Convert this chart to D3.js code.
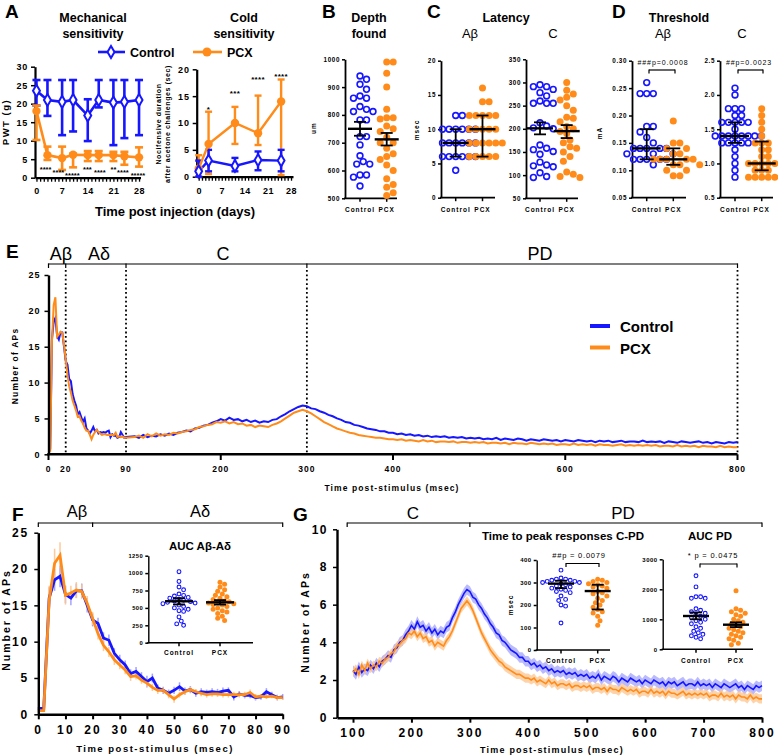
<!DOCTYPE html>
<html><head><meta charset="utf-8">
<script src="https://cdn.jsdelivr.net/npm/d3@7"></script>
<style>
body{margin:0;background:#fff;}
svg{display:block;font-family:Arial,"Liberation Sans",sans-serif;}
</style></head><body>
<svg id="c" width="778" height="756"></svg>
<script>
// ================= DATA =================
const groupNames=["Control","PCX"];
// Panel A - mechanical sensitivity (PWT, g)
const mechDays=[0,3,7,10,14,17,21,24,28];
const mechCtrl=[23.5,21,20.5,21,16.8,21,20.3,20.5,21];
const mechCtrlLo=[19.5,16.7,11.5,12.5,9.9,19,8.8,10.7,11.5];
const mechCtrlHi=[26.4,26.4,26.4,26.4,21.2,26.4,26.4,26.4,26.4];
const mechPcx=[18,6.1,5.3,6.2,6.1,6.1,6.1,5.8,5.5];
const mechPcxLo=[10.2,4.8,2.1,2.8,4.5,4.5,4.5,3.5,3];
const mechPcxHi=[19.5,8.4,8.4,6.5,7.2,7.2,7,7,8.2];
const mechStars=["****","****","*****","***","****","**","****","*****"];
const mechStarDays=[2.5,6,9.8,13.9,17.3,21,23.6,27.7];
const mechStarRows=[0,1,2,0,1,0,1,2];
// Panel A - cold sensitivity (sec)
const coldDays=[0,3,11,18,25];
const coldCtrl=[1,3,2,3.1,3];
const coldCtrlLo=[0,1,1,1.2,1];
const coldCtrlHi=[3,5,3.5,4.7,5];
const coldPcx=[1.5,6.1,10,8.1,14];
const coldPcxLo=[0,0.5,6.1,5.9,0.3];
const coldPcxHi=[4,12.1,13,15.1,18.1];
const coldStars=["*","***","****","****"];
const coldStarDays=[3,11,18,25];
const coldStarVals=[12.8,15.8,18.4,18.9];
// Panel B - depth found (um)
const depthCtrl=[928,940,910,892,868,860,860,830,812,812,820,782,782,722,722,692,653,632,623,623,584,576,584,544];
const depthPcx=[990,990,950,900,820,790,790,785,760,750,740,720,700,700,680,660,650,640,620,600,570,550,540,520,510];
const depthStats=[[750,725,775],[712,690,735]];
// Panel C - latency (msec)
const latAbCtrl=[12,12,10,10,10,10,10,10,8,8,8,8,8,8,6,6,6,6,6,6,4];
const latAbPcx=[16,14,14,12,12,12,12,12,10,10,10,10,10,8,8,8,8,8,8,6,6,6,6,6];
const latAbStats=[[8,6,10],[10,6,12]];
const latCCtrl=[295,291,291,285,278,271,260,255,255,255,213,206,202,200,165,158,155,151,145,128,122,120,118,105,97,95];
const latCPcx=[300,283,275,268,262,250,240,225,223,215,205,200,194,190,176,170,161,158,150,140,130,107,102,97,95];
const latCStats=[[201,188,214],[195,180,208]];
// Panel D - threshold (mA)
const thAbCtrl=[0.26,0.24,0.24,0.24,0.18,0.18,0.17,0.16,0.15,0.14,0.14,0.14,0.14,0.14,0.13,0.13,0.13,0.12,0.12,0.12,0.12,0.12,0.11];
const thAbPcx=[0.19,0.15,0.15,0.14,0.14,0.13,0.13,0.12,0.12,0.12,0.12,0.12,0.11,0.11,0.11,0.10,0.10,0.09,0.09];
const thAbStats=[[0.14,0.12,0.175],[0.12,0.11,0.14]];
const thCCtrl=[2.1,2.0,1.8,1.8,1.8,1.7,1.7,1.6,1.6,1.6,1.6,1.6,1.5,1.4,1.4,1.4,1.4,1.4,1.4,1.4,1.4,1.3,1.3,1.3,1.3,1.3,1.2,1.1,1.0,0.9,0.8];
const thCPcx=[1.8,1.7,1.6,1.5,1.4,1.3,1.3,1.3,1.2,1.2,1.1,1.1,1.0,1.0,1.0,1.0,1.0,1.0,0.9,0.9,0.9,0.8,0.8,0.8,0.8,0.8];
const thCStats=[[1.4,1.3,1.6],[1.0,0.9,1.32]];
// Panel F - early responses 0-90 ms (2 ms bins)
const fCtrl=[0.8,0.8,16,18.5,19,16.5,16,17,17,15, 13,12.5,10.5,10.2,8.4,7.5,6.8,5.6,5.9,5.2, 4.5,5,3.6,3.3,2.9,3.3,3.8,3.2,3.4,2.9, 3.1,3,3.1,3,3.2,3.3,2.4,2.8,2.6,2.6, 2.3,2.4,3.1,2.7,2.3,2.4];
const fPcx=[0.5,0.5,15.7,20.8,21.9,16.4,16.7,17.1,16.9,15.3, 13.2,11.1,9.5,8.6,7.5,6.8,6.1,5.2,5.3,4.7, 4.3,3.7,3.3,3.3,2.7,2.1,2.7,3.1,3.4,3.1, 2.9,2.7,2.8,2.8,2.7,2.7,2.7,2.7,2.7,3.0, 2.4,2.5,2.4,2.5,2.3,2.3];
const fCtrlErr=[0.2,0.2,1.5,1.5,1.5,1.2,1,1,1,1, 0.9,0.8,0.8,0.8,0.7,0.7,0.6,0.6,0.6,0.6, 0.8,0.6,0.5,0.5,0.5,0.5,0.6,0.5,0.5,0.5, 0.5,0.4,0.5,0.5,0.5,0.4,0.5,0.4,0.4,0.4, 0.4,0.4,0.5,0.4,0.4,0.4];
const fPcxErr=[0.2,0.2,2,2,1.8,1.3,1,1.1,1,1, 0.9,0.8,0.8,0.7,0.7,0.6,0.6,0.6,0.5,0.5, 0.5,0.5,0.5,0.4,0.5,0.5,0.4,0.4,0.4,0.4, 0.4,0.4,0.4,0.4,0.4,0.4,0.4,0.4,0.4,0.4, 0.4,0.3,0.3,0.3,0.3,0.3];
const aucAbCtrl=[1020,880,800,760,700,680,670,650,640,620,610,600,590,580,570,560,540,520,500,480,460,450,370,310,270,250];
const aucAbPcx=[870,840,800,760,740,700,680,660,640,620,600,590,580,570,560,550,540,520,500,480,460,440,420,380,350,320];
const aucAbStats=[[595,550,640],[580,548,612]];
// Panel G - late responses 100-800 ms (5 ms bins)
const gCtrl=[2.5,2.3,2.7,2.4,2.6,2.5,2.8,2.6,2.9,2.7,3.0,3.1,3.3,3.2,3.6,3.7,4.0,4.1,4.4,4.6,
 4.9,4.7,5.1,4.8,4.9,4.6,4.8,4.5,4.7,4.4,4.6,4.5,4.8,4.9,5.3,5.6,6.0,6.3,6.6,6.8,
 6.7,6.4,6.3,6.0,5.8,5.5,5.3,5.0,4.8,4.5,4.4,4.1,4.0,3.8,3.6,3.5,3.4,3.2,3.2,3.0,
 3.0,2.8,2.9,2.7,2.8,2.6,2.7,2.5,2.6,2.4,2.5,2.4,2.5,2.3,2.4,2.3,2.4,2.2,2.3,2.2,
 2.3,2.1,2.2,2.1,2.3,2.0,2.2,2.1,2.0,2.2,2.1,1.9,2.1,2.0,1.9,2.1,2.0,1.9,2.0,1.8,
 2.0,1.9,1.8,2.0,1.9,1.8,1.9,1.7,1.9,1.8,1.9,1.7,1.8,1.9,1.7,1.8,1.8,1.7,1.9,1.7,
 1.8,1.7,1.8,1.6,1.8,1.7,1.6,1.8,1.7,1.6,1.7,1.8,1.6,1.7,1.5,1.7,1.6,1.5,1.7,1.6,1.7];
const gPcx=[2.4,2.6,2.3,2.8,2.5,2.9,2.6,2.8,2.7,3.0,2.9,3.1,3.2,3.4,3.5,3.8,3.9,4.1,4.2,4.5,
 4.4,4.6,4.3,4.5,4.2,4.3,4.0,4.1,3.8,4.0,3.9,3.8,4.1,4.3,4.6,5.0,5.4,5.8,6.0,6.2,
 6.0,5.7,5.3,4.9,4.5,4.2,3.9,3.6,3.4,3.2,3.0,2.9,2.7,2.6,2.5,2.4,2.3,2.3,2.2,2.1,
 2.1,2.0,2.1,1.9,2.0,1.9,1.8,2.0,1.8,1.9,1.7,1.8,1.8,1.7,1.8,1.6,1.7,1.7,1.6,1.7,
 1.6,1.7,1.5,1.6,1.6,1.5,1.6,1.4,1.6,1.5,1.5,1.4,1.6,1.5,1.4,1.5,1.4,1.5,1.3,1.4,
 1.4,1.3,1.5,1.3,1.4,1.3,1.4,1.2,1.4,1.3,1.3,1.2,1.3,1.4,1.2,1.3,1.2,1.3,1.2,1.3,
 1.2,1.3,1.1,1.2,1.2,1.1,1.3,1.1,1.2,1.1,1.2,1.0,1.2,1.1,1.1,1.0,1.2,1.0,1.1,1.0,1.0];
const gSem=[0.28,0.24];
const peakCtrl=[355,320,315,315,310,310,305,305,300,300,295,290,285,280,275,270,265,260,255,240,225,220,200,195,120];
const peakPcx=[315,310,305,300,295,290,285,280,275,260,255,250,240,230,220,210,200,190,180,170,165,150,130,110];
const peakStats=[[295,275,308],[262,180,290]];
const aucPdCtrl=[2450,2080,1750,1750,1700,1700,1350,1300,1250,1200,1150,1100,1050,1000,950,900,850,750,700,600,550,500,450,400,350];
const aucPdPcx=[1950,1350,1300,1250,1200,1150,1100,1000,950,900,850,800,750,700,650,600,550,500,450,400,350,300,200,150];
const aucPdStats=[[1110,1000,1230],[820,740,900]];
// E tick labels
const eTickLabels=[0,20,90,200,300,400,600,800];
const eTickMarks=[0,200,400,600,800];
const ePhases=[0,20,90,300,800];

// ================= DRAWING =================
const svg=d3.select("#c");
const BLUE="#1616ff", ORANGE="#ff8c1a", BLUE_L="#8c8cff", ORANGE_L="#ffc48c";
const FONT="Arial, 'Liberation Sans', sans-serif";

function txt(x,y,s,o={}){
  const t=svg.append("text").attr("x",x).attr("y",y).text(s)
    .attr("font-size",o.size||12).attr("font-weight",o.bold===false?"normal":"bold")
    .attr("text-anchor",o.anchor||"start").attr("fill",o.fill||"#000");
  if(o.ls) t.attr("letter-spacing",o.ls);
  if(o.rot) t.attr("transform",`rotate(-90,${x},${y})`);
  return t;
}
function line(x1,y1,x2,y2,o={}){
  const l=svg.append("line").attr("x1",x1).attr("y1",y1).attr("x2",x2).attr("y2",y2)
    .attr("stroke",o.c||"#000").attr("stroke-width",o.w||1.5);
  if(o.dash) l.attr("stroke-dasharray",o.dash);
  if(o.op) l.attr("stroke-opacity",o.op);
  return l;
}
function styleAxis(g,o){
  g.attr("font-family",FONT);
  g.select(".domain").attr("stroke","#000").attr("stroke-width",o.sw||2);
  g.selectAll(".tick line").attr("stroke","#000").attr("stroke-width",o.tw||1.5);
  g.selectAll(".tick text").attr("font-size",o.fs||7).attr("font-weight","bold")
    .attr("letter-spacing",o.ls||0).attr("fill","#000");
}
function yAxis(scale,x,ticks,o={}){
  const g=svg.append("g").attr("transform",`translate(${x},0)`)
    .call(d3.axisLeft(scale).tickValues(ticks).tickSize(o.ts||3).tickSizeOuter(0)
      .tickPadding(o.pad||3).tickFormat(o.fmt||(d=>d)));
  styleAxis(g,o);
  return g;
}
function swarm(vals,y,cx,d){
  const pts=vals.map(v=>({v,y:y(v)})).sort((a,b)=>a.y-b.y);
  const placed=[];
  pts.forEach(p=>{
    let k=0,x=cx;
    while(k<80){
      const off=(k===0)?0:((k%2===1)?1:-1)*Math.ceil(k/2)*d/2;
      x=cx+off;
      if(placed.every(q=>Math.hypot(q.x-x,q.y-p.y)>=d-0.01)) break;
      k++;
    }
    p.x=x; placed.push(p);
  });
  return placed;
}
function dotPanel(p){
  const y=d3.scaleLinear().domain(p.domain).range([p.yBot,p.yTop]);
  yAxis(y,p.x0,p.ticks,{fmt:p.fmt,fs:p.fs,ls:p.ls||0.6,sw:p.axw||1.8,ts:3,pad:2});
  line(p.x0-1,p.yBot,p.x1,p.yBot,{w:p.axw||1.8});
  p.xs.forEach((cx,i)=>{
    line(cx,p.yBot,cx,p.yBot+3.5,{w:1.5});
    txt(cx,p.labelY,groupNames[i],{size:p.lfs||6.5,anchor:"middle",ls:1});
  });
  p.groups.forEach((vals,i)=>{
    const pts=swarm(vals,y,p.xs[i],p.d);
    svg.append("g").selectAll("circle").data(pts).join("circle")
      .attr("cx",q=>q.x).attr("cy",q=>q.y).attr("r",i===0?p.r:p.r+0.6)
      .attr("fill",i===0?"none":ORANGE).attr("stroke",i===0?BLUE:"none")
      .attr("stroke-width",p.sw||1.6);
  });
  p.stats.forEach((s,i)=>{
    const cx=p.xs[i];
    line(cx,y(s[1]),cx,y(s[2]),{w:1.8});
    line(cx-p.capW/2,y(s[1]),cx+p.capW/2,y(s[1]),{w:1.8});
    line(cx-p.capW/2,y(s[2]),cx+p.capW/2,y(s[2]),{w:1.8});
    line(cx-p.meanW/2,y(s[0]),cx+p.meanW/2,y(s[0]),{w:2.4});
  });
  if(p.ylabel) txt(p.ylabelX,p.ylabelY,p.ylabel,{size:6.5,anchor:"middle",rot:true,ls:1});
  return y;
}
function bracket(xs,yB,tick){
  line(xs[0],yB,xs[xs.length-1],yB,{w:1.2});
  xs.forEach(x=>line(x,yB-0.6,x,yB+tick,{w:1.2}));
}

// ---------- Panel letters ----------
[["A",5,18],["B",322,18],["C",427,18],["D",612,18],["E",6,258],["F",12,521],["G",293,521]]
  .forEach(d=>txt(d[1],d[2],d[0],{size:19}));

// ---------- Panel A : mechanical ----------
{
  const x=d3.scaleLinear().domain([-0.4,28.4]).range([35,140.5]);
  const y=d3.scaleLinear().domain([0,30]).range([177.7,66.7]);
  yAxis(y,35,[0,5,10,15,20,25,30],{fs:9,ls:0.8,sw:2.2,ts:4});
  const gx=svg.append("g").attr("transform","translate(0,177.7)")
    .call(d3.axisBottom(x).tickValues(d3.range(0,29)).tickSize(4).tickSizeOuter(0).tickPadding(6)
      .tickFormat(d=>d%7===0?d:""));
  styleAxis(gx,{fs:9,ls:0.5,sw:2.2,tw:1.3});
  txt(93,22,"Mechanical",{size:12.5,anchor:"middle"});
  txt(93,37.5,"sensitivity",{size:12.5,anchor:"middle"});
  txt(9,122,"PWT (g)",{size:9.5,anchor:"middle",rot:true,ls:1.5});
  const eb=(days,lo,hi,col)=>days.forEach((d,i)=>{
    line(x(d),y(lo[i]),x(d),y(hi[i]),{c:col,w:2.6});
    line(x(d)-4,y(lo[i]),x(d)+4,y(lo[i]),{c:col,w:2.6});
    line(x(d)-4,y(hi[i]),x(d)+4,y(hi[i]),{c:col,w:2.6});
  });
  eb(mechDays,mechCtrlLo,mechCtrlHi,BLUE);
  eb(mechDays,mechPcxLo,mechPcxHi,ORANGE);
  const ln=d3.line().x((d,i)=>x(mechDays[i])).y(d=>y(d));
  svg.append("path").attr("d",ln(mechPcx)).attr("fill","none").attr("stroke",ORANGE).attr("stroke-width",2.6);
  svg.append("path").attr("d",ln(mechCtrl)).attr("fill","none").attr("stroke",BLUE).attr("stroke-width",2.6);
  mechPcx.forEach((v,i)=>svg.append("circle").attr("cx",x(mechDays[i])).attr("cy",y(v)).attr("r",4.2).attr("fill",ORANGE));
  mechCtrl.forEach((v,i)=>svg.append("path").attr("d",d3.symbol(d3.symbolDiamond,42)())
    .attr("transform",`translate(${x(mechDays[i])},${y(v)})`).attr("fill","#fff").attr("stroke",BLUE).attr("stroke-width",2));
  const rowY=[171.5,175,178];
  mechStars.forEach((s,i)=>txt(x(mechStarDays[i]),rowY[mechStarRows[i]],s,{size:7.5,anchor:"middle"}));
}
// legend A
line(98,52,125,52,{c:BLUE,w:2.6});
svg.append("path").attr("d",d3.symbol(d3.symbolDiamond,42)()).attr("transform","translate(111,52)")
  .attr("fill","#fff").attr("stroke",BLUE).attr("stroke-width",2);
txt(130,57,"Control",{size:12.5});
line(193,52,222,52,{c:ORANGE,w:2.6});
svg.append("circle").attr("cx",207).attr("cy",52).attr("r",4.5).attr("fill",ORANGE);
txt(227,57,"PCX",{size:12.5});

// ---------- Panel A : cold ----------
{
  const x=d3.scaleLinear().domain([-0.6,28.6]).range([196.7,293]);
  const y=d3.scaleLinear().domain([0,20]).range([176.7,69.3]);
  yAxis(y,196.7,[0,5,10,15,20],{fs:9,ls:0.8,sw:2.2,ts:4});
  const gx=svg.append("g").attr("transform","translate(0,176.7)")
    .call(d3.axisBottom(x).tickValues(d3.range(0,29)).tickSize(4).tickSizeOuter(0).tickPadding(7)
      .tickFormat(d=>d%7===0?d:""));
  styleAxis(gx,{fs:9,ls:0.5,sw:2.2,tw:1.3});
  txt(244,22,"Cold",{size:12.5,anchor:"middle"});
  txt(244,37.5,"sensitivity",{size:12.5,anchor:"middle"});
  const lt=svg.append("text").attr("transform","translate(164,124) rotate(-90)")
    .attr("text-anchor","middle").attr("font-size",7).attr("font-weight","bold").attr("letter-spacing",0.6);
  lt.append("tspan").attr("x",0).attr("y",-3).text("Nocifensive duration");
  lt.append("tspan").attr("x",0).attr("y",5.5).text("after acetone challenges (sec)");
  const eb=(days,lo,hi,col)=>days.forEach((d,i)=>{
    line(x(d),y(lo[i]),x(d),y(hi[i]),{c:col,w:2.4});
    line(x(d)-3.5,y(lo[i]),x(d)+3.5,y(lo[i]),{c:col,w:2.4});
    line(x(d)-3.5,y(hi[i]),x(d)+3.5,y(hi[i]),{c:col,w:2.4});
  });
  eb(coldDays,coldPcxLo,coldPcxHi,ORANGE);
  eb(coldDays,coldCtrlLo,coldCtrlHi,BLUE);
  const ln=d3.line().x((d,i)=>x(coldDays[i])).y(d=>y(d));
  svg.append("path").attr("d",ln(coldPcx)).attr("fill","none").attr("stroke",ORANGE).attr("stroke-width",2.4);
  svg.append("path").attr("d",ln(coldCtrl)).attr("fill","none").attr("stroke",BLUE).attr("stroke-width",2.4);
  coldPcx.forEach((v,i)=>svg.append("circle").attr("cx",x(coldDays[i])).attr("cy",y(v)).attr("r",4.2).attr("fill",ORANGE));
  coldCtrl.forEach((v,i)=>svg.append("path").attr("d",d3.symbol(d3.symbolDiamond,40)())
    .attr("transform",`translate(${x(coldDays[i])},${y(v)})`).attr("fill","#fff").attr("stroke",BLUE).attr("stroke-width",2));
  coldStars.forEach((s,i)=>txt(x(coldStarDays[i]),y(coldStarVals[i])+4,s,{size:8,anchor:"middle",ls:0.3}));
}
txt(175,216,"Time post injection (days)",{size:13,anchor:"middle"});

// ---------- Panel B ----------
txt(369,22,"Depth",{size:12.5,anchor:"middle"});
txt(369,37.5,"found",{size:12.5,anchor:"middle"});
dotPanel({x0:345,x1:397,yTop:59.3,yBot:198.3,domain:[500,1000],ticks:[500,600,700,800,900,1000],
  fs:6.3,xs:[360,386.7],groups:[depthCtrl,depthPcx],stats:depthStats,r:2.9,d:6.5,labelY:212,
  meanW:24,capW:12,ylabel:"um",ylabelX:316,ylabelY:128});

// ---------- Panel C ----------
txt(506,21.5,"Latency",{size:12.5,anchor:"middle"});
txt(470,38,"Aβ",{size:13,anchor:"middle",bold:false});
txt(553,38,"C",{size:13,anchor:"middle",bold:false});
dotPanel({x0:441,x1:495,yTop:60.7,yBot:197.7,domain:[0,20],ticks:[0,5,10,15,20],
  fs:6.3,xs:[455.7,482.5],groups:[latAbCtrl,latAbPcx],stats:latAbStats,r:2.9,d:6.6,labelY:212,
  meanW:26,capW:12,ylabel:"msec",ylabelX:419,ylabelY:130});
dotPanel({x0:526,x1:578,yTop:59.3,yBot:198.3,domain:[50,350],ticks:[50,100,150,200,250,300,350],
  fs:6.3,xs:[540,566.7],groups:[latCCtrl,latCPcx],stats:latCStats,r:2.9,d:6.6,labelY:212,
  meanW:26,capW:12});

// ---------- Panel D ----------
txt(679,21.5,"Threshold",{size:12.5,anchor:"middle"});
txt(663,38,"Aβ",{size:13,anchor:"middle",bold:false});
txt(742,38,"C",{size:13,anchor:"middle",bold:false});
dotPanel({x0:632,x1:686,yTop:60.7,yBot:197.7,domain:[0.05,0.30],ticks:[0.05,0.10,0.15,0.20,0.25,0.30],
  fmt:d3.format(".2f"),fs:6.3,xs:[646.7,673.3],groups:[thAbCtrl,thAbPcx],stats:thAbStats,r:2.9,d:6.6,labelY:212,
  meanW:28,capW:14,ylabel:"mA",ylabelX:602,ylabelY:133});
dotPanel({x0:720,x1:773,yTop:60.7,yBot:197.7,domain:[0.5,2.5],ticks:[0.5,1.0,1.5,2.0,2.5],
  fmt:d3.format(".1f"),fs:6.3,xs:[735,761.7],groups:[thCCtrl,thCPcx],stats:thCStats,r:2.9,d:6.6,labelY:212,
  meanW:28,capW:14});
txt(663,65,"###p=0.0008",{size:7,anchor:"middle",bold:false,ls:0.9});
bracket([649,675],70,3.5);
txt(749,65,"##p=0.0023",{size:7,anchor:"middle",bold:false,ls:0.9});
bracket([738,763],70,3.5);

// ---------- Panel E ----------
{
  const x=d3.scaleLinear().domain([0,800]).range([48.5,737.5]);
  const y=d3.scaleLinear().domain([0,25]).range([454.3,275]);
  const fT=d3.range(0,91,2), gT=d3.range(100,801,5);
  const eT=fT.concat(gT);
  const eC=fCtrl.concat(gCtrl), eP=fPcx.concat(gPcx);
  bracket(ePhases.map(x),264,4);
  ePhases.slice(1).forEach(t=>line(x(t),270,x(t),454,{w:1.8,dash:"1.8,2.6"}));
  txt(61,260,"Aβ",{size:18,anchor:"middle",bold:false});
  txt(99,260,"Aδ",{size:18,anchor:"middle",bold:false});
  txt(223,260,"C",{size:18,anchor:"middle",bold:false});
  txt(540,260,"PD",{size:18,anchor:"middle",bold:false});
  const ln=d3.line().x((d,i)=>x(eT[i])).y(d=>y(d));
  svg.append("path").attr("d",ln(eC)).attr("fill","none").attr("stroke",BLUE).attr("stroke-width",2);
  svg.append("path").attr("d",ln(eP)).attr("fill","none").attr("stroke",ORANGE).attr("stroke-width",2);
  yAxis(y,48.5,[0,5,10,15,20,25],{fs:9,ls:1,sw:2.4,ts:4,pad:4});
  line(47.3,454.3,737.5,454.3,{w:2.4});
  eTickMarks.forEach(t=>line(x(t),454.3,x(t),460,{w:2}));
  eTickLabels.forEach(t=>txt(x(t),472,String(t),{size:8.5,anchor:"middle",ls:1}));
  txt(392,491,"Time post-stimulus (msec)",{size:8.5,anchor:"middle",ls:1.1});
  txt(18,366,"Number of APs",{size:8.5,anchor:"middle",rot:true,ls:1.2});
  line(590,326,610,326,{c:BLUE,w:4});
  txt(620,332,"Control",{size:15});
  line(590,347.5,610,347.5,{c:ORANGE,w:4});
  txt(620,354,"PCX",{size:15});
}

// ---------- Panel F ----------
{
  const x=d3.scaleLinear().domain([0,90]).range([38.3,282.7]);
  const y=d3.scaleLinear().domain([0,25]).range([714.3,532.7]);
  const fT=d3.range(0,91,2);
  bracket([x(0),x(20),x(90)],523,4);
  txt(77,517,"Aβ",{size:16.5,anchor:"middle",bold:false});
  txt(200,517,"Aδ",{size:16.5,anchor:"middle",bold:false});
  fT.forEach((t,i)=>line(x(t),y(fCtrl[i]-fCtrlErr[i]),x(t),y(fCtrl[i]+fCtrlErr[i]),{c:BLUE_L,w:1.5,op:0.8}));
  fT.forEach((t,i)=>line(x(t),y(fPcx[i]-fPcxErr[i]),x(t),y(fPcx[i]+fPcxErr[i]),{c:ORANGE_L,w:1.5,op:0.9}));
  const ln=d3.line().x((d,i)=>x(fT[i])).y(d=>y(d));
  svg.append("path").attr("d",ln(fCtrl)).attr("fill","none").attr("stroke",BLUE).attr("stroke-width",2.8);
  svg.append("path").attr("d",ln(fPcx)).attr("fill","none").attr("stroke",ORANGE).attr("stroke-width",2.8);
  yAxis(y,38.3,[0,5,10,15,20,25],{fs:12,ls:2,sw:2.4,ts:4,pad:5});
  const gx=svg.append("g").attr("transform","translate(0,714.3)")
    .call(d3.axisBottom(x).tickValues(d3.range(0,91,10)).tickSize(5).tickSizeOuter(0).tickPadding(6));
  styleAxis(gx,{fs:12,ls:2.2,sw:2.4,tw:2});
  txt(155,752,"Time post-stimulus (msec)",{size:9.5,anchor:"middle",ls:1.5});
  txt(10,620,"Number of APs",{size:10.5,anchor:"middle",rot:true,ls:2});
  txt(200,550,"AUC Aβ-Aδ",{size:11.5,anchor:"middle"});
  dotPanel({x0:148.3,x1:253,yTop:555.7,yBot:642.7,domain:[0,1250],ticks:[0,250,500,750,1000,1250],
    fs:5.8,ls:0.5,xs:[179,220],groups:[aucAbCtrl,aucAbPcx],stats:aucAbStats,r:1.9,d:4.6,sw:1.1,labelY:655,lfs:6.5,
    meanW:28,capW:12,axw:1.4});
}

// ---------- Panel G ----------
{
  const x=d3.scaleLinear().domain([72.6,800]).range([337,762]);
  const y=d3.scaleLinear().domain([0,10]).range([717.7,529.3]);
  const gT=d3.range(100,801,5);
  bracket([x(90),x(300),x(800)],523,4);
  txt(413,519,"C",{size:17,anchor:"middle",bold:false});
  txt(623,519,"PD",{size:17,anchor:"middle",bold:false});
  const band=(vals,s)=>d3.area().x((d,i)=>x(gT[i])).y0(d=>y(d-s)).y1(d=>y(d+s))(vals);
  svg.append("path").attr("d",band(gCtrl,gSem[0])).attr("fill",BLUE_L).attr("fill-opacity",0.6);
  svg.append("path").attr("d",band(gPcx,gSem[1])).attr("fill",ORANGE_L).attr("fill-opacity",0.75);
  const ln=d3.line().x((d,i)=>x(gT[i])).y(d=>y(d));
  svg.append("path").attr("d",ln(gCtrl)).attr("fill","none").attr("stroke",BLUE).attr("stroke-width",1.6);
  svg.append("path").attr("d",ln(gPcx)).attr("fill","none").attr("stroke",ORANGE).attr("stroke-width",1.6);
  yAxis(y,337,[0,2,4,6,8,10],{fs:12,ls:1.5,sw:2.4,ts:4,pad:5});
  const gx=svg.append("g").attr("transform","translate(0,717.7)")
    .call(d3.axisBottom(x).tickValues(d3.range(100,801,100)).tickSize(5).tickSizeOuter(0).tickPadding(6));
  styleAxis(gx,{fs:12,ls:2.2,sw:2.4,tw:2});
  txt(552,753,"Time post-stimulus (msec)",{size:9,anchor:"middle",ls:1.2});
  txt(309,622,"Number of APs",{size:10.5,anchor:"middle",rot:true,ls:2});
  txt(563,540,"Time to peak responses C-PD",{size:11.5,anchor:"middle"});
  dotPanel({x0:536.7,x1:610,yTop:560,yBot:650,domain:[0,400],ticks:[0,100,200,300,400],
    fs:6,ls:0.5,xs:[561,597.7],groups:[peakCtrl,peakPcx],stats:peakStats,r:1.9,d:4.6,sw:1.1,labelY:663,lfs:6.5,
    meanW:26,capW:12,axw:1.4,ylabel:"msec",ylabelX:513,ylabelY:605});
  txt(579,558,"##p = 0.0079",{size:7.5,anchor:"middle",bold:false,ls:0.8});
  bracket([566,599],563.5,3.5);
  txt(710,540,"AUC PD",{size:11.5,anchor:"middle"});
  dotPanel({x0:662.7,x1:753,yTop:559.3,yBot:649.3,domain:[0,3000],ticks:[0,1000,2000,3000],
    fs:6,ls:0.5,xs:[696,736],groups:[aucPdCtrl,aucPdPcx],stats:aucPdStats,r:1.9,d:4.6,sw:1.1,labelY:663,lfs:6.5,
    meanW:26,capW:12,axw:1.4});
  txt(713,558,"* p = 0.0475",{size:7.5,anchor:"middle",bold:false,ls:0.8});
  bracket([700,737],564,3.5);
}
</script>
</body></html>
